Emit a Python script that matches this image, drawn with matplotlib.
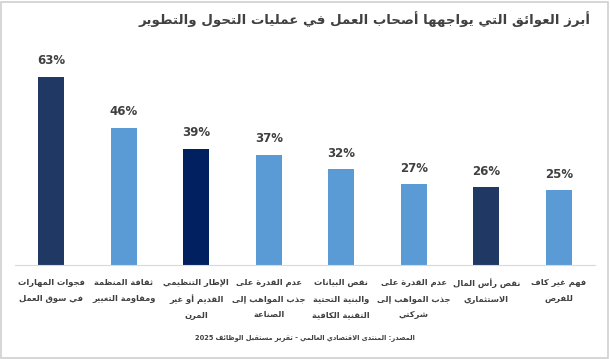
import matplotlib
matplotlib.use("Agg")
from matplotlib import pyplot as plt
from matplotlib.patches import Rectangle

# chart data
categories = [
    "فجوات المهارات\nفي سوق العمل",
    "ثقافة المنظمة\nومقاومة التغيير",
    "الإطار التنظيمي\nالقديم أو غير\nالمرن",
    "عدم القدرة على\nجذب المواهب إلى\nالصناعة",
    "نقص البيانات\nوالبنية التحتية\nالتقنية الكافية",
    "عدم القدرة على\nجذب المواهب إلى\nشركتي",
    "نقص رأس المال\nالاستثماري",
    "فهم غير كاف\nللفرص",
]
values = [63, 46, 39, 37, 32, 27, 26, 25]
bar_colors = ["#1F3864", "#5B9BD5", "#002060", "#5B9BD5",
              "#5B9BD5", "#5B9BD5", "#1F3864", "#5B9BD5"]
title = "أبرز العوائق التي يواجهها أصحاب العمل في عمليات التحول والتطوير"
source = "المصدر: المنتدى الاقتصادي العالمي - تقرير مستقبل الوظائف 2025"

# --- tiny arabic shaper (matplotlib has no shaping / bidi) ---
# letter: first code point of presentation forms (iso, fin[, ini, med])
FORMS = {
    "ء": (0xFE80, 1), "آ": (0xFE81, 2), "أ": (0xFE83, 2), "ؤ": (0xFE85, 2),
    "إ": (0xFE87, 2), "ئ": (0xFE89, 4), "ا": (0xFE8D, 2), "ب": (0xFE8F, 4),
    "ة": (0xFE93, 2), "ت": (0xFE95, 4), "ث": (0xFE99, 4), "ج": (0xFE9D, 4),
    "ح": (0xFEA1, 4), "خ": (0xFEA5, 4), "د": (0xFEA9, 2), "ذ": (0xFEAB, 2),
    "ر": (0xFEAD, 2), "ز": (0xFEAF, 2), "س": (0xFEB1, 4), "ش": (0xFEB5, 4),
    "ص": (0xFEB9, 4), "ض": (0xFEBD, 4), "ط": (0xFEC1, 4), "ظ": (0xFEC5, 4),
    "ع": (0xFEC9, 4), "غ": (0xFECD, 4), "ف": (0xFED1, 4), "ق": (0xFED5, 4),
    "ك": (0xFED9, 4), "ل": (0xFEDD, 4), "م": (0xFEE1, 4), "ن": (0xFEE5, 4),
    "ه": (0xFEE9, 4), "و": (0xFEED, 2), "ى": (0xFEEF, 2), "ي": (0xFEF1, 4),
}
LAM_ALEF = {"آ": 0xFEF5, "أ": 0xFEF7, "إ": 0xFEF9, "ا": 0xFEFB}


def shape_line(s):
    out = []
    i = 0
    n = len(s)
    while i < n:
        c = s[i]
        if c not in FORMS:
            out.append(c)
            i += 1
            continue
        prev = s[i - 1] if i > 0 else ""
        prev_join = prev in FORMS and FORMS[prev][1] == 4
        if c == "ل" and i + 1 < n and s[i + 1] in LAM_ALEF:
            out.append(chr(LAM_ALEF[s[i + 1]] + (1 if prev_join else 0)))
            i += 2
            continue
        nxt = s[i + 1] if i + 1 < n else ""
        base, k = FORMS[c]
        next_join = nxt in FORMS and k == 4
        if prev_join and next_join:
            out.append(chr(base + 3))
        elif prev_join:
            out.append(chr(base + 1))
        elif next_join:
            out.append(chr(base + 2))
        else:
            out.append(chr(base))
        i += 1
    # visual order: reverse, keeping digit runs left-to-right
    runs = []
    for ch in out:
        if ch.isdigit() and runs and runs[-1][0].isdigit():
            runs[-1] += ch
        else:
            runs.append(ch)
    return "".join(runs[::-1])


def ar(s):
    return "\n".join(shape_line(line) for line in s.split("\n"))


plt.rcParams["font.family"] = ["DejaVu Sans"]

fig = plt.figure(figsize=(6.1, 3.59), dpi=100)
ax = fig.add_axes([15 / 610, 94 / 359, 580 / 610, 209 / 359])

x = range(len(values))
bars = ax.bar(x, values, width=0.36, color=bar_colors)

for xi, v in zip(x, values):
    ax.text(xi, v + 3.2, f"{v}%", ha="center", va="bottom",
            fontsize=8.5, fontweight="bold", color="#404040")

ax.set_xlim(-0.5, 7.5)
ax.set_ylim(0, 70)
ax.set_yticks([])
ax.set_xticks([])
for side in ["top", "right", "left"]:
    ax.spines[side].set_visible(False)
ax.spines["bottom"].set_color("#D9D9D9")

for xi, lab in zip(x, categories):
    ax.text(xi, -4.3, ar(lab), ha="center", va="top", fontsize=6.0,
            fontweight="bold", color="#404040", linespacing=2.0,
            transform=ax.transData, clip_on=False)

fig.text(590 / 610, 1 - 19 / 359, ar(title), ha="right", va="center",
         fontsize=9.6, fontweight="bold", color="#404040")
fig.text(305 / 610, 1 - 338 / 359, ar(source), ha="center", va="center",
         fontsize=4.8, fontweight="bold", color="#404040")

fig.patches.append(Rectangle((0.002, 0.004), 0.994, 0.99, transform=fig.transFigure,
                             fill=False, edgecolor="#D0D0D0", linewidth=1.2))

fig.savefig("out.png", dpi=100, facecolor="white")
